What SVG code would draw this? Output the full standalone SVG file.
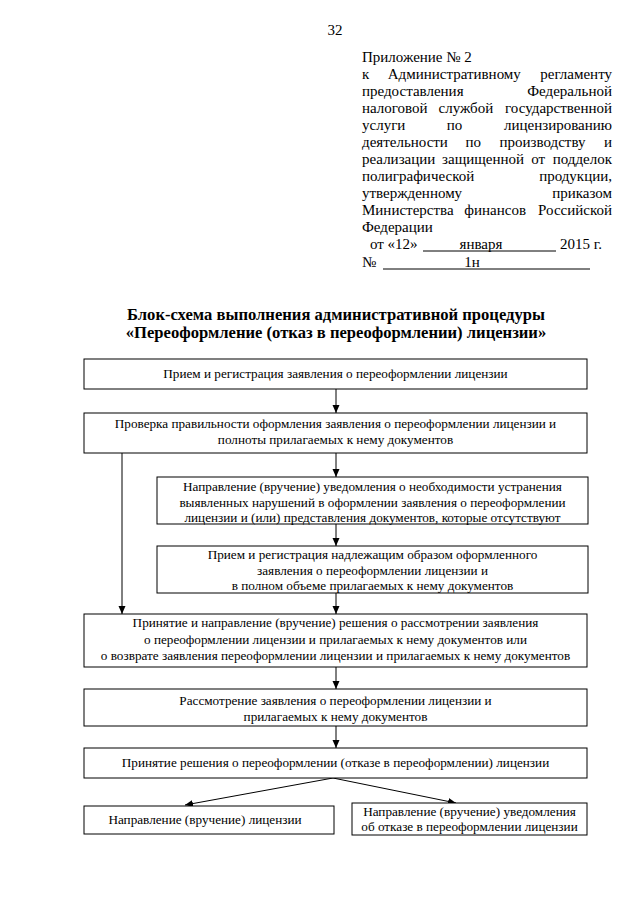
<svg xmlns="http://www.w3.org/2000/svg" width="640" height="905" viewBox="0 0 640 905">
<style>
  .hd { font-family: "Liberation Serif", "Times New Roman", serif; font-size: 15px; fill: #000; }
  .ttl { font-family: "Liberation Serif", "Times New Roman", serif; font-size: 16.6px; font-weight: bold; fill: #000; text-anchor: middle; }
  .bx { fill: #fff; stroke: #000; stroke-width: 1; }
  .tx { font-family: "Liberation Serif", "Times New Roman", serif; font-size: 13.2px; fill: #000; text-anchor: middle; }
  .cn { stroke: #000; stroke-width: 1; fill: none; marker-end: url(#ah); }
  .ul { stroke: #000; stroke-width: 1; }
</style>
<defs>
  <marker id="ah" markerUnits="userSpaceOnUse" markerWidth="9" markerHeight="8" refX="8" refY="3.5" orient="auto">
    <path d="M0,0 L8,3.5 L0,7 Z" fill="#000"/>
  </marker>
</defs>
<rect width="640" height="905" fill="#fff"/>

<g id="header">
  <text class="hd" x="335" y="35" text-anchor="middle" font-size="14">32</text>
  <text class="hd" x="362" y="62">Приложение № 2</text>
  <text class="hd" x="362" y="79">к</text>
  <text class="hd" x="454.3" y="79" text-anchor="middle">Административному</text>
  <text class="hd" x="612" y="79" text-anchor="end">регламенту</text>
  <text class="hd" x="362" y="96">предоставления</text>
  <text class="hd" x="612" y="96" text-anchor="end">Федеральной</text>
  <text class="hd" x="362" y="113">налоговой</text>
  <text class="hd" x="465.9" y="113" text-anchor="middle">службой</text>
  <text class="hd" x="612" y="113" text-anchor="end">государственной</text>
  <text class="hd" x="362" y="130">услуги</text>
  <text class="hd" x="454.6" y="130" text-anchor="middle">по</text>
  <text class="hd" x="612" y="130" text-anchor="end">лицензированию</text>
  <text class="hd" x="362" y="147">деятельности</text>
  <text class="hd" x="473.3" y="147" text-anchor="middle">по</text>
  <text class="hd" x="542.5" y="147" text-anchor="middle">производству</text>
  <text class="hd" x="612" y="147" text-anchor="end">и</text>
  <text class="hd" x="362" y="164">реализации</text>
  <text class="hd" x="483.1" y="164" text-anchor="middle">защищенной</text>
  <text class="hd" x="538.1" y="164" text-anchor="middle">от</text>
  <text class="hd" x="612" y="164" text-anchor="end">подделок</text>
  <text class="hd" x="362" y="181">полиграфической</text>
  <text class="hd" x="612" y="181" text-anchor="end">продукции,</text>
  <text class="hd" x="362" y="198">утвержденному</text>
  <text class="hd" x="612" y="198" text-anchor="end">приказом</text>
  <text class="hd" x="362" y="215">Министерства</text>
  <text class="hd" x="495.2" y="215" text-anchor="middle">финансов</text>
  <text class="hd" x="612" y="215" text-anchor="end">Российской</text>
  <text class="hd" x="362" y="232">Федерации</text>
  <text class="hd" x="370" y="249">от «12»</text>
  <line class="ul" x1="423" y1="251" x2="556" y2="251"/>
  <text class="hd" x="481" y="249" text-anchor="middle">января</text>
  <text class="hd" x="560" y="249">2015 г.</text>
  <text class="hd" x="362" y="267">№</text>
  <line class="ul" x1="383" y1="269" x2="590" y2="269"/>
  <text class="hd" x="472" y="267" text-anchor="middle">1н</text>
</g>

<g id="title">
  <text class="ttl" x="336" y="320">Блок-схема выполнения административной процедуры</text>
  <text class="ttl" x="336" y="338">«Переоформление (отказ в переоформлении) лицензии»</text>
</g>

<g id="connectors">
  <line class="cn" x1="336" y1="389" x2="336" y2="413"/>
  <line class="cn" x1="122" y1="453" x2="122" y2="614"/>
  <line class="cn" x1="336" y1="453" x2="336" y2="477"/>
  <line class="cn" x1="336" y1="524" x2="336" y2="546"/>
  <line class="cn" x1="336" y1="593" x2="336" y2="614"/>
  <line class="cn" x1="336" y1="667" x2="336" y2="689"/>
  <line class="cn" x1="336" y1="726" x2="336" y2="748"/>
  <line class="cn" x1="333" y1="778" x2="185" y2="805"/>
  <line class="cn" x1="333" y1="778" x2="456" y2="803"/>
</g>

<g id="n1">
  <rect class="bx" x="84" y="359" width="503" height="30"/>
  <text class="tx" x="335.5" y="378">Прием и регистрация заявления о переоформлении лицензии</text>
</g>
<g id="n2">
  <rect class="bx" x="84" y="413" width="503" height="40"/>
  <text class="tx" x="335.5" y="428">Проверка правильности оформления заявления о переоформлении лицензии и</text>
  <text class="tx" x="335.5" y="444">полноты прилагаемых к нему документов</text>
</g>
<g id="n3">
  <rect class="bx" x="157" y="477" width="431" height="47"/>
  <text class="tx" x="372.5" y="491">Направление (вручение) уведомления о необходимости устранения</text>
  <text class="tx" x="372.5" y="507">выявленных нарушений в оформлении заявления о переоформлении</text>
  <text class="tx" x="372.5" y="522">лицензии и (или) представления документов, которые отсутствуют</text>
</g>
<g id="n4">
  <rect class="bx" x="157" y="546" width="431" height="47"/>
  <text class="tx" x="372.5" y="559">Прием и регистрация надлежащим образом оформленного</text>
  <text class="tx" x="372.5" y="575">заявления о переоформлении лицензии и</text>
  <text class="tx" x="372.5" y="590">в полном объеме прилагаемых к нему документов</text>
</g>
<g id="n5">
  <rect class="bx" x="84" y="614" width="503" height="53"/>
  <text class="tx" x="335.5" y="627">Принятие и направление (вручение) решения о рассмотрении заявления</text>
  <text class="tx" x="335.5" y="644">о переоформлении лицензии и прилагаемых к нему документов или</text>
  <text class="tx" x="335.5" y="660">о возврате заявления переоформлении лицензии и прилагаемых к нему документов</text>
</g>
<g id="n6">
  <rect class="bx" x="84" y="689" width="503" height="37"/>
  <text class="tx" x="335.5" y="705">Рассмотрение заявления о переоформлении лицензии и</text>
  <text class="tx" x="335.5" y="721">прилагаемых к нему документов</text>
</g>
<g id="n7">
  <rect class="bx" x="84" y="748" width="503" height="30"/>
  <text class="tx" x="335.5" y="767">Принятие решения о переоформлении (отказе в переоформлении) лицензии</text>
</g>
<g id="n8">
  <rect class="bx" x="84" y="806" width="250" height="28"/>
  <text class="tx" x="205" y="824">Направление (вручение) лицензии</text>
</g>
<g id="n9">
  <rect class="bx" x="352" y="803" width="235" height="32"/>
  <text class="tx" x="469.5" y="816">Направление (вручение) уведомления</text>
  <text class="tx" x="469.5" y="831">об отказе в переоформлении лицензии</text>
</g>
</svg>
